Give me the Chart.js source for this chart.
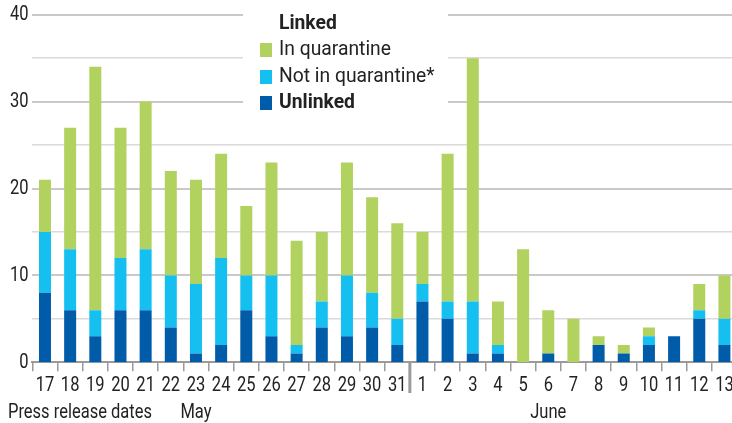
<!DOCTYPE html>
<html>
<head>
<meta charset="utf-8">
<script src="https://cdn.jsdelivr.net/npm/chart.js@4"></script>
<style>
  html, body { margin: 0; padding: 0; background: #fff; overflow: hidden; width: 732px; height: 423px; }
  canvas { display: block; }
</style>
</head>
<body>
<canvas id="c" width="737" height="423" style="width:737px;height:423px"></canvas>
<script>
const categories = ['17','18','19','20','21','22','23','24','25','26','27','28','29','30','31',
                    '1','2','3','4','5','6','7','8','9','10','11','12','13'];
const unlinked       = [8,6,3,6,6,4,1,2,6,3,1,4,3,4,2, 7,5,1,1,0,1,0,2,1,2,3,5,2];
const notQuarantine  = [7,7,3,6,7,6,8,10,4,7,1,3,7,4,3, 2,2,6,1,0,0,0,0,0,1,0,1,3];
const inQuarantine   = [6,14,28,15,17,12,12,12,8,13,12,8,13,11,11, 6,17,28,5,13,5,5,1,1,1,0,3,5];
const yTicks = [0,10,20,30,40];
const legendItems = [
  {text:'Linked', bold:true, color:null},
  {text:'In quarantine', bold:false, color:'#b1d25f'},
  {text:'Not in quarantine*', bold:false, color:'#15c0f0'},
  {text:'Unlinked', bold:true, color:'#005ca9'}
];
const FONT = 'Roboto, "Noto Sans", sans-serif';
const SIZE = 21;
const TEXT = '#222';

function fitFactor(ctx, str, target) {
  ctx.save();
  ctx.font = SIZE + 'px ' + FONT;
  const w = ctx.measureText(str).width;
  ctx.restore();
  return target / w;
}
function drawText(ctx, k, str, x, y, align, bold) {
  ctx.save();
  ctx.font = (bold ? 'bold ' : '') + SIZE + 'px ' + FONT;
  ctx.fillStyle = TEXT;
  ctx.textBaseline = 'middle';
  ctx.textAlign = align;
  ctx.translate(x, y);
  ctx.scale(k, 1);
  ctx.fillText(str, 0, 0);
  ctx.restore();
}

const overlay = {
  id: 'overlay',
  beforeDatasetsDraw(chart) {
    const ctx = chart.ctx;
    ctx.save();
    ctx.fillStyle = '#fff';
    ctx.fillRect(243, 0, 205, 120);
    ctx.restore();
  },
  afterDraw(chart) {
    const ctx = chart.ctx;
    const x = chart.scales.x;
    const y = chart.scales.y;
    const area = chart.chartArea;
    const k = fitFactor(ctx, 'Press release dates', 144);
    const kl = fitFactor(ctx, 'In quarantine', 112);
    ctx.save();
    const step = x.getPixelForValue(1) - x.getPixelForValue(0);
    const dx = x.getPixelForValue(14) + step / 2;
    ctx.strokeStyle = '#9a9a9a';
    ctx.lineWidth = 3;
    ctx.beginPath();
    ctx.moveTo(dx, area.bottom);
    ctx.lineTo(dx, 393);
    ctx.stroke();
    ctx.restore();
    categories.forEach((c, i) => drawText(ctx, k, c, x.getPixelForValue(i), 386, 'center'));
    yTicks.forEach(v => drawText(ctx, k, String(v), 28.5, y.getPixelForValue(v), 'right'));
    drawText(ctx, k, 'Press release dates', 8, 413, 'left');
    drawText(ctx, k, 'May', x.getPixelForValue(6), 413, 'center');
    drawText(ctx, k, 'June', x.getPixelForValue(20), 413, 'center');
    const ys = [24, 50, 77, 103];
    legendItems.forEach((it, i) => {
      drawText(ctx, kl, it.text, 279, ys[i], 'left', it.bold);
      if (it.color) {
        ctx.save();
        ctx.fillStyle = it.color;
        ctx.fillRect(260, ys[i] - 7, 12, 14);
        ctx.restore();
      }
    });
  }
};

new Chart(document.getElementById('c'), {
  type: 'bar',
  data: {
    labels: categories,
    datasets: [
      {label:'Unlinked', data: unlinked, backgroundColor:'#005ca9'},
      {label:'Not in quarantine*', data: notQuarantine, backgroundColor:'#15c0f0'},
      {label:'In quarantine', data: inQuarantine, backgroundColor:'#b1d25f'}
    ]
  },
  options: {
    responsive: false,
    animation: false,
    devicePixelRatio: 1,
    layout: { padding: { top: 14.7, right: 0, left: 0, bottom: 0 } },
    datasets: { bar: { categoryPercentage: 1, barPercentage: 0.477 } },
    plugins: { legend: { display: false }, tooltip: { enabled: false } },
    scales: {
      x: {
        stacked: true,
        offset: true,
        grid: { offset: true, drawOnChartArea: false, drawTicks: true, tickLength: 9, color: '#9a9a9a', lineWidth: 1.5 },
        border: { display: true, color: '#9a9a9a', width: 2 },
        ticks: { display: false },
        afterFit(s) { s.height = 60.7; }
      },
      y: {
        stacked: true,
        min: 0, max: 40,
        ticks: { stepSize: 5, display: false },
        grid: {
          drawTicks: false,
          color: c => (c.tick && c.tick.value % 10 === 0) ? '#c9c9c9' : '#dadada',
          lineWidth: c => (c.tick && c.tick.value === 0) ? 0 : (c.tick.value % 10 === 0 ? 2 : 1.5)
        },
        border: { display: false },
        afterFit(s) { s.width = 32.4; }
      }
    }
  },
  plugins: [overlay]
});
</script>
</body>
</html>
